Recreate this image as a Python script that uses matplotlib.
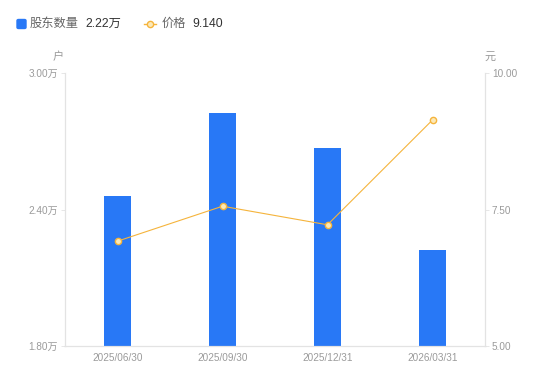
import matplotlib
matplotlib.use("Agg")
import matplotlib.pyplot as plt
from matplotlib.patches import FancyBboxPatch

plt.rcParams['font.family'] = ['Liberation Sans', 'Noto Sans CJK SC', 'DejaVu Sans']

categories = ["2025/06/30", "2025/09/30", "2025/12/31", "2026/03/31"]
holders = [2.46, 2.824, 2.67, 2.222]   # 万户
price = [6.92, 7.56, 7.22, 9.14]       # 元
left_ticks = [1.80, 2.40, 3.00]
right_ticks = [5.00, 7.50, 10.00]

bar_color = "#2878F6"
line_color = "#F5B43C"
axis_color = "#E3E3E3"
tick_color = "#9A9A9A"

fig = plt.figure(figsize=(5.5, 3.81), dpi=100)
ax = fig.add_axes([65/550, 35/381, 420/550, 273/381])
x = list(range(len(categories)))
ax.bar(x, holders, width=0.25, color=bar_color, zorder=2)
ax.set_xlim(-0.5, len(categories) - 0.5)
ax.set_ylim(left_ticks[0], left_ticks[-1])
ax.set_yticks(left_ticks)
ax.set_yticklabels([f"{v:.2f}万" for v in left_ticks])
ax.set_xticks(x)
ax.set_xticklabels(categories)

ax2 = ax.twinx()
ax2.plot(x, price, color=line_color, lw=0.8, marker='o', ms=4.5,
         mfc="#FCE9B8", mec=line_color, mew=1.0, zorder=3)
ax2.set_ylim(right_ticks[0], right_ticks[-1])
ax2.set_yticks(right_ticks)
ax2.set_yticklabels([f"{v:.2f}" for v in right_ticks])

for a in (ax, ax2):
    for s in a.spines.values():
        s.set_color(axis_color)
        s.set_linewidth(0.8)
    a.spines['top'].set_visible(False)
    a.tick_params(colors=tick_color, labelsize=7.2, length=3, width=0.6)
    a.tick_params(axis='y', color=axis_color)
ax.tick_params(axis='x', length=0, pad=5)
ax2.tick_params(axis='y', pad=2)
ax.tick_params(axis='y', pad=2)

fig.text(58/550, 1 - 57/381, "户", color=tick_color, fontsize=8, ha='center', va='center')
fig.text(490/550, 1 - 57/381, "元", color=tick_color, fontsize=8, ha='center', va='center')

# legend
ly = 1 - 24/381
fig.patches.append(FancyBboxPatch((17/550, ly - 4.5/381), 9/550, 9/381,
                                  boxstyle="round,pad=0,rounding_size=0.003",
                                  transform=fig.transFigure, color=bar_color))
fig.text(30/550, ly, "股东数量", color="#666666", fontsize=8.8, va='center')
fig.text(85/550, ly, "2.22万", color="#333333", fontsize=8.8, va='center')
leg_line = plt.Line2D([144/550, 150/550, 156/550], [ly, ly, ly], transform=fig.transFigure,
                      color=line_color, lw=1.0, marker='o', ms=4.5,
                      mfc="#FCE9B8", mec=line_color, markevery=[1])
fig.lines.append(leg_line)
fig.text(162/550, ly, "价格", color="#666666", fontsize=8.8, va='center')
fig.text(192/550, ly, "9.140", color="#333333", fontsize=8.8, va='center')

fig.savefig("out.png", dpi=100)
